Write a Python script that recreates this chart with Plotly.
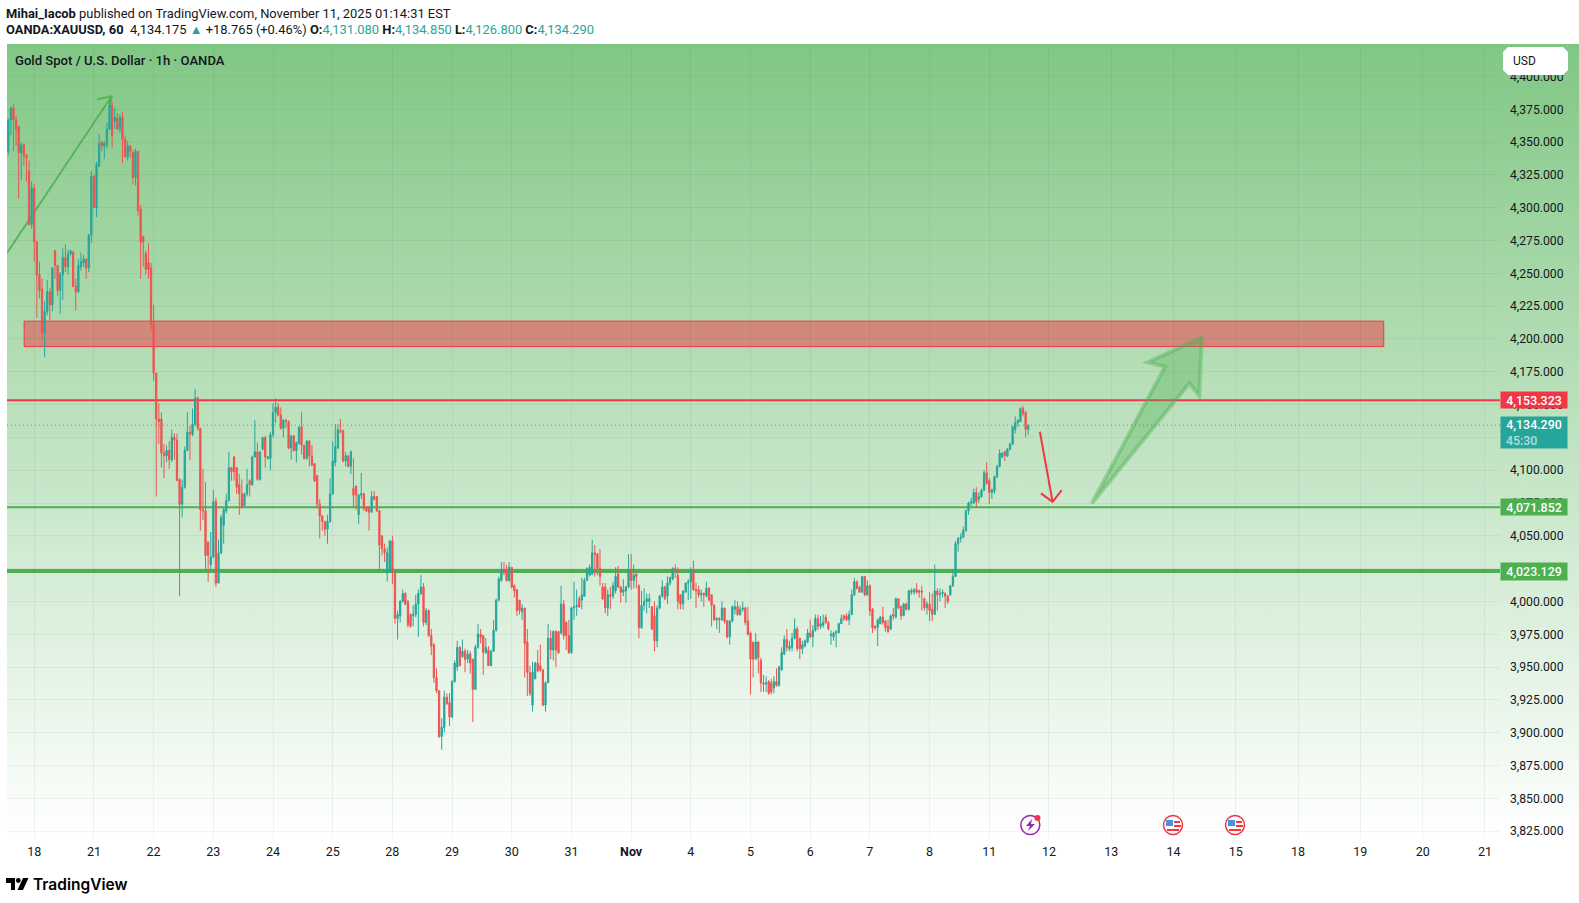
"""Gold spot 1h chart, TradingView snapshot look"""

import base64
import plotly.graph_objects as go

opens = [
    4343,4367,4376,4367,4362,4342,4348,4340,4328,4287,
    4315,4274,4249,4238,4205,4221,4236,4226,4267,4256,
    4237,4249,4262,4255,4265,4266,4240,4236,4255,4258,
    4261,4254,4279,4324,4300,4332,4350,4347,4348,4360,
    4378,4366,4368,4360,4369,4352,4339,4347,4342,4323,
    4343,4299,4278,4265,4258,4254,4211,4174,4139,4139,
    4113,4111,4115,4108,4125,4123,4093,4074,4087,4115,
    4129,4127,4135,4155,4132,4070,4069,4045,4028,4034,
    4076,4014,4037,4058,4069,4077,4102,4110,4102,4089,
    4082,4073,4082,4092,4089,4110,4114,4093,4116,4125,
    4109,4109,4127,4144,4148,4142,4132,4138,4137,4117,
    4126,4115,4120,4133,4119,4109,4122,4111,4105,4096,
    4074,4065,4061,4055,4061,4082,4106,4117,4130,4130,
    4107,4111,4103,4086,4088,4066,4081,4082,4072,4072,
    4068,4080,4080,4069,4050,4040,4022,4022,4046,4022,
    3987,3989,4000,4006,4000,3990,3989,3990,3998,4006,
    4011,3984,3993,3974,3967,3942,3932,3897,3904,3927,
    3923,3912,3939,3950,3965,3958,3962,3956,3960,3956,
    3933,3965,3975,3974,3961,3963,3951,3962,3978,4001,
    4016,4024,4024,4016,4026,4012,4009,4001,3992,3995,
    3969,3946,3921,3941,3953,3951,3948,3921,3938,3972,
    3963,3977,3977,3976,3998,3984,3974,3961,3995,3996,
    4002,4001,4004,4016,4020,4021,4037,4036,4025,4011,
    4011,3995,4005,4004,4008,4021,4011,4007,4008,4011,
    4024,4016,4021,4012,3980,3997,4000,4000,3996,3989,
    3970,3995,4004,4011,4004,4014,4017,4025,4020,4005,
    3998,4007,4014,4015,4023,4009,4009,4005,4006,4004,
    4010,4005,3997,3986,3987,3986,3995,3985,3973,3985,
    3994,3996,3990,3994,3995,3985,3976,3969,3956,3969,
    3955,3938,3937,3939,3938,3934,3939,3936,3948,3960,
    3971,3964,3965,3972,3979,3972,3964,3966,3969,3976,
    3973,3978,3987,3981,3982,3988,3984,3974,3973,3976,
    3976,3983,3989,3989,3986,3990,4005,4015,4011,4007,
    4019,4005,4012,3994,3981,3980,3983,3988,3985,3981,
    3979,3990,3988,4002,3996,3989,3998,3994,4007,4007,
    4009,4008,4008,4002,3995,3998,3994,3990,4008,4005,
    4006,4006,4004,4005,4012,4019,4044,4048,4049,4054,
    4069,4075,4075,4083,4078,4080,4085,4098,4092,4083,
    4084,4095,4103,4110,4114,4111,4116,4120,4131,4136,
    4137,4147,4144,4131.08,
]
highs = [
    4368,4377,4379,4370,4362,4350,4349,4341,4336,4320,
    4318,4275,4259,4246,4229,4245,4239,4255,4268,4256,
    4251,4269,4272,4268,4268,4267,4246,4261,4266,4264,
    4261,4280,4328,4325,4335,4356,4351,4351,4365,4382,
    4381,4376,4372,4371,4373,4355,4351,4348,4344,4345,
    4343,4302,4279,4267,4273,4258,4226,4174,4151,4144,
    4120,4119,4122,4131,4128,4128,4094,4093,4118,4144,
    4134,4147,4162,4156,4132,4101,4091,4046,4053,4085,
    4079,4047,4066,4071,4082,4114,4102,4111,4102,4097,
    4093,4083,4101,4093,4111,4138,4121,4114,4125,4126,
    4111,4129,4151,4155,4151,4148,4139,4139,4138,4127,
    4127,4122,4133,4144,4119,4123,4123,4119,4105,4096,
    4078,4066,4061,4066,4094,4122,4135,4135,4139,4131,
    4114,4111,4115,4109,4088,4082,4098,4083,4072,4072,
    4084,4084,4080,4070,4050,4044,4041,4047,4050,4022,
    3993,4001,4009,4007,4001,3991,3997,4005,4009,4020,
    4014,3995,3994,3979,3968,3949,3932,3911,3932,3930,
    3930,3940,3955,3970,3966,3971,3964,3963,3962,3956,
    3967,3983,3979,3974,3972,3966,3963,3986,4002,4019,
    4030,4030,4028,4030,4026,4013,4009,4001,3998,3995,
    3979,3951,3954,3954,3963,3967,3948,3939,3983,3978,
    3978,3978,3977,4012,4001,3985,3986,3996,4015,4009,
    4004,4018,4018,4026,4028,4047,4043,4037,4040,4014,
    4014,4009,4011,4015,4026,4027,4012,4017,4012,4036,
    4036,4028,4021,4013,4008,4010,4006,4006,3996,4000,
    3997,4005,4016,4012,4019,4019,4026,4028,4026,4005,
    4008,4014,4017,4026,4031,4014,4012,4009,4007,4015,
    4011,4005,3998,3988,3988,4000,3995,3986,3986,3997,
    4001,4000,3997,4000,3996,3996,3977,3969,3976,3970,
    3957,3944,3943,3940,3941,3943,3949,3951,3965,3974,
    3979,3970,3976,3987,3981,3972,3970,3971,3979,3986,
    3982,3990,3990,3989,3990,3990,3985,3978,3977,3978,
    3984,3990,3990,3991,3993,4009,4018,4016,4012,4019,
    4019,4016,4013,3995,3982,3987,3989,3996,3986,3986,
    3990,3995,4003,4002,3997,3999,3999,4009,4010,4010,
    4014,4009,4012,4003,4000,4007,4006,4028,4010,4010,
    4009,4007,4005,4012,4024,4046,4049,4052,4057,4070,
    4076,4079,4086,4087,4083,4086,4100,4106,4094,4086,
    4096,4104,4116,4114,4115,4117,4121,4134,4141,4139,
    4148,4149,4145,4134.85,
]
lows = [
    4340,4355,4343,4347,4307,4321,4332,4320,4287,4284,
    4259,4216,4231,4200,4186,4218,4214,4221,4246,4233,
    4219,4230,4251,4249,4263,4240,4222,4235,4252,4255,
    4246,4251,4273,4300,4293,4331,4343,4337,4345,4359,
    4346,4360,4359,4357,4334,4338,4336,4338,4318,4317,
    4294,4246,4255,4249,4246,4206,4168,4080,4120,4102,
    4094,4106,4101,4106,4108,4092,4004,4064,4086,4115,
    4108,4126,4134,4130,4054,4062,4024,4015,4024,4033,
    4011,4014,4036,4044,4067,4076,4092,4092,4082,4066,
    4071,4072,4080,4080,4088,4110,4092,4092,4115,4102,
    4108,4100,4125,4136,4141,4131,4125,4132,4116,4108,
    4114,4106,4120,4112,4108,4108,4103,4103,4091,4071,
    4048,4054,4050,4044,4060,4081,4103,4116,4128,4106,
    4103,4102,4097,4072,4070,4059,4078,4069,4068,4054,
    4068,4077,4068,4024,4035,4030,4015,4022,4013,3983,
    3971,3984,3999,3997,3980,3980,3981,3988,3973,4005,
    3981,3982,3973,3959,3938,3930,3896,3887,3900,3921,
    3905,3911,3938,3947,3951,3957,3946,3953,3945,3908,
    3933,3964,3968,3944,3960,3951,3951,3962,3977,4000,
    4015,4020,4015,4015,4010,4003,3989,3990,3986,3942,
    3928,3928,3916,3941,3946,3946,3920,3916,3938,3956,
    3955,3950,3960,3975,3971,3963,3960,3960,3986,3989,
    3995,3994,4004,4016,4019,4020,4019,4020,4012,4001,
    3991,3989,3994,4002,4006,4010,3999,4004,3999,4010,
    4009,4010,4010,3972,3979,3993,3991,3995,3978,3962,
    3965,3994,4003,4001,3998,4012,4016,4018,3994,3994,
    3994,4007,4001,4002,4008,3995,4003,4000,3996,4003,
    4000,3981,3985,3979,3976,3985,3983,3972,3967,3984,
    3990,3989,3989,3992,3982,3974,3929,3942,3956,3945,
    3931,3931,3931,3929,3929,3930,3935,3935,3947,3959,
    3962,3962,3962,3971,3962,3956,3960,3965,3968,3972,
    3965,3977,3978,3979,3980,3983,3978,3967,3970,3965,
    3976,3983,3985,3985,3982,3990,4004,4009,4007,4007,
    4004,4004,3989,3976,3978,3966,3983,3982,3977,3976,
    3978,3986,3987,3994,3986,3989,3993,3993,4005,4005,
    4006,4003,3993,3993,3990,3985,3985,3990,3993,4000,
    4003,3995,3998,4004,4011,4019,4038,4045,4048,4053,
    4066,4072,4074,4072,4075,4079,4084,4089,4074,4078,
    4082,4094,4102,4109,4107,4110,4115,4119,4128,4133,
    4137,4141,4125,4126.8,
]
closes = [
    4367,4376,4367,4360,4342,4348,4340,4338,4287,4315,
    4274,4249,4237,4205,4221,4236,4226,4254,4256,4237,
    4249,4262,4255,4265,4267,4240,4236,4256,4259,4261,
    4254,4279,4324,4300,4333,4349,4347,4349,4360,4378,
    4355,4369,4360,4369,4352,4339,4347,4343,4323,4343,
    4298,4274,4274,4253,4253,4211,4174,4139,4137,4113,
    4111,4115,4108,4125,4123,4092,4074,4087,4115,4129,
    4128,4135,4155,4132,4070,4069,4035,4035,4034,4076,
    4014,4037,4064,4070,4077,4102,4099,4099,4087,4082,
    4072,4082,4089,4089,4110,4114,4093,4114,4125,4110,
    4110,4127,4144,4148,4142,4132,4138,4137,4117,4126,
    4115,4121,4133,4119,4109,4122,4111,4104,4092,4074,
    4065,4061,4055,4061,4082,4107,4118,4131,4129,4107,
    4111,4103,4114,4081,4081,4081,4082,4071,4069,4068,
    4080,4078,4069,4043,4040,4037,4037,4046,4022,3987,
    3990,4000,4006,3998,3982,3981,3990,3998,4006,4011,
    3984,3993,3974,3966,3942,3932,3897,3904,3927,3922,
    3912,3939,3953,3965,3951,3962,3956,3960,3953,3933,
    3965,3975,3973,3961,3965,3951,3962,3978,4001,4017,
    4024,4022,4016,4026,4011,4008,3993,3993,3995,3968,
    3946,3930,3946,3953,3947,3948,3921,3938,3972,3963,
    3977,3963,3961,3998,3974,3974,3961,3995,3996,3997,
    3996,4005,4016,4025,4026,4037,4036,4025,4019,4002,
    3995,4005,4004,4012,4019,4011,4007,4009,4011,4024,
    4016,4020,4019,3980,3997,4000,4002,4002,3979,3970,
    3995,4004,4011,4002,4014,4018,4025,4023,4000,3998,
    4008,4014,4015,4024,4009,4008,4005,4006,4005,4010,
    4001,3997,3986,3987,3986,3995,3985,3973,3985,3996,
    3996,3990,3994,3995,3984,3975,3956,3956,3969,3957,
    3938,3937,3938,3930,3931,3939,3936,3950,3961,3971,
    3965,3966,3972,3979,3964,3964,3967,3970,3976,3973,
    3978,3987,3981,3983,3984,3984,3979,3975,3976,3977,
    3983,3987,3987,3986,3990,4005,4015,4010,4007,4019,
    4005,4012,3993,3980,3980,3986,3988,3984,3980,3977,
    3989,3989,4002,3995,3989,3998,3994,4008,4008,4009,
    4007,4007,4007,3995,3998,3993,3990,4008,4005,4006,
    4007,4004,4000,4012,4019,4044,4048,4049,4054,4069,
    4075,4076,4083,4076,4080,4085,4098,4090,4083,4085,
    4095,4103,4113,4113,4111,4116,4120,4133,4136,4138,
    4147,4143,4131,4134.29,
]

# bar index of each day label on the time axis
day_ticks = [10, 33, 56, 79, 102, 125, 148, 171, 194, 217, 240, 263, 286,
             309, 332, 355, 378, 401, 425, 449, 473, 497, 521, 545, 569]
day_labels = ["18", "21", "22", "23", "24", "25", "28", "29", "30", "31", "<b>Nov</b>", "4", "5",
              "6", "7", "8", "11", "12", "13", "14", "15", "18", "19", "20", "21"]
price_ticks = [3825 + 25 * k for k in range(24)]

level_red = 4153.323
level_green_1 = 4071.852
level_green_2 = 4023.129
last_price = 4134.29

# drawings: bar index / price
zone_x = [6.1, 530]
zone_y = [4194.2, 4213.6]
trend_x = [-0.5, 39.8]
trend_y = [4265.5, 4385]
trend_head_x = [34.2, 39.8, 39.2]
trend_head_y = [4382.6, 4385, 4377]
down_x = [397.5, 402.4]
down_y = [4129.3, 4075.9]
down_head_x = [397.9, 402.4, 405.9]
down_head_y = [4082.3, 4075.9, 4084.8]
big_arrow_x = [417.5, 445.7, 439.1, 459.9, 458.9, 455.1]
big_arrow_y = [4074.7, 4178.8, 4182.2, 4201.2, 4156.5, 4166.2]

TEAL = "#26a69a"
RED = "#ef5350"
LINE_RED = "#f23645"
GREEN = "#4caf50"
INK = "#131722"
FONT = "Roboto"

# plot area in page pixels
L, R, T, B = 7, 1500, 44, 838


def px(x):
    return (x - L) / (R - L)


def py(y):
    return (B - y) / (B - T)


def path_of(xs, ys, close=False):
    d = "M" + " L".join(f"{a},{b}" for a, b in zip(xs, ys))
    return d + (" Z" if close else "")


def page_path(points, close=True):
    return path_of([px(p[0]) for p in points], [py(p[1]) for p in points], close)


fig = go.Figure()

fig.add_trace(go.Candlestick(
    x=list(range(len(closes))),
    open=opens, high=highs, low=lows, close=closes,
    increasing=dict(line=dict(color=TEAL, width=1), fillcolor=TEAL),
    decreasing=dict(line=dict(color=RED, width=1), fillcolor=RED),
    whiskerwidth=0,
    showlegend=False,
))

shapes = []

# drawings sit under the candles
shapes.append(dict(type="rect", x0=zone_x[0], x1=zone_x[1], y0=zone_y[0], y1=zone_y[1],
                   fillcolor="rgba(242,54,69,0.5)", line=dict(color=LINE_RED, width=1), layer="below"))
for level, color, w in [(level_red, LINE_RED, 2), (level_green_1, GREEN, 2), (level_green_2, GREEN, 4)]:
    shapes.append(dict(type="line", xref="paper", x0=0, x1=1, y0=level, y1=level,
                       line=dict(color=color, width=w), layer="below"))
shapes.append(dict(type="line", xref="paper", x0=0, x1=1, y0=last_price, y1=last_price,
                   line=dict(color=TEAL, width=1, dash="1px 3px"), layer="below"))
shapes.append(dict(type="path", path=path_of(trend_x, trend_y),
                   line=dict(color="rgba(76,175,80,0.85)", width=2), layer="below"))
shapes.append(dict(type="path", path=path_of(trend_head_x, trend_head_y),
                   line=dict(color="rgba(76,175,80,0.85)", width=2), layer="below"))
shapes.append(dict(type="path", path=path_of(down_x, down_y), line=dict(color=LINE_RED, width=2), layer="below"))
shapes.append(dict(type="path", path=path_of(down_head_x, down_head_y), line=dict(color=LINE_RED, width=2), layer="below"))
shapes.append(dict(type="path", path=path_of(big_arrow_x, big_arrow_y, True),
                   fillcolor="rgba(76,175,80,0.35)", line=dict(color="rgba(76,175,80,0.4)", width=4), layer="below"))


# USD box
shapes.append(dict(type="path", xref="paper", yref="paper", fillcolor="white", line=dict(width=0),
                   path=page_path([(1508, 47), (1563, 47), (1568, 52), (1568, 70), (1563, 75),
                                   (1508, 75), (1503, 70), (1503, 52)])))


# event icons along the bottom
def circle(cx, cy, r, **kw):
    return dict(type="circle", xref="paper", yref="paper", x0=px(cx - r), x1=px(cx + r),
                y0=py(cy + r), y1=py(cy - r), **kw)


def box(x0, y0, x1, y1, color):
    return dict(type="rect", xref="paper", yref="paper", x0=px(x0), x1=px(x1), y0=py(y1), y1=py(y0),
                fillcolor=color, line=dict(width=0))


shapes.append(circle(1030.3, 825, 9.5, fillcolor="rgba(255,255,255,0)", line=dict(color="#9c27b0", width=1.5)))
shapes.append(dict(type="path", xref="paper", yref="paper", fillcolor="#9c27b0", line=dict(width=0),
                   path=page_path([(1032, 819), (1026, 826), (1030, 826), (1028, 831), (1035, 824), (1031, 824)])))
shapes.append(circle(1037.5, 818, 3, fillcolor=LINE_RED, line=dict(width=0)))
for cx in [1173, 1235]:
    shapes.append(circle(cx, 825, 9.5, fillcolor="white", line=dict(color=LINE_RED, width=1.5)))
    shapes.append(box(cx - 7, 820, cx, 826, "#4a90e2"))
    shapes.append(box(cx + 1, 821, cx + 7, 823, LINE_RED))
    shapes.append(box(cx + 1, 825, cx + 8, 827, LINE_RED))
    shapes.append(box(cx - 6, 829, cx + 6, 831, LINE_RED))

# TradingView logo mark
shapes.append(box(6, 878, 15, 883, "black"))
shapes.append(box(11, 883, 15, 890, "black"))
shapes.append(circle(18.3, 880.5, 2.4, fillcolor="black", line=dict(width=0)))
shapes.append(dict(type="path", xref="paper", yref="paper", fillcolor="black", line=dict(width=0),
                   path=page_path([(23, 878), (28.5, 878), (23, 890), (17.5, 890)])))

annotations = []


def page_text(x, y, text, size=12.9, color=INK, anchor="left", weight=None, family=FONT):
    annotations.append(dict(
        xref="paper", yref="paper", x=px(x), y=py(y), text=text, showarrow=False,
        xanchor=anchor, yanchor="middle", align="left",
        font=dict(family=family, size=size, color=color, weight=weight),
    ))


page_text(4, 13, "<b>Mihai_Iacob</b> published on TradingView.com, November 11, 2025 01:14:31 EST")
page_text(4, 29.5,
          "<b>OANDA:XAUUSD, 60</b>  4,134.175 "
          f"<span style='color:{TEAL}'>▲</span> +18.765 (+0.46%) "
          f"<b>O:</b><span style='color:{TEAL}'>4,131.080</span> "
          f"<b>H:</b><span style='color:{TEAL}'>4,134.850</span> "
          f"<b>L:</b><span style='color:{TEAL}'>4,126.800</span> "
          f"<b>C:</b><span style='color:{TEAL}'>4,134.290</span>")
page_text(13, 60.5, "Gold Spot / U.S. Dollar · 1h · OANDA", size=13.1, weight=500)
page_text(1511, 61, "USD", size=12)
page_text(31, 884, "TradingView", size=15.5, color="black", weight=600, family="Inter")


def price_tag(y0, y1, text, color):
    annotations.append(dict(
        xref="paper", yref="paper", x=px(1534), y=py((y0 + y1) / 2), text=text, showarrow=False,
        xanchor="center", yanchor="middle", width=66, height=y1 - y0, bgcolor=color, borderpad=0,
        font=dict(family=FONT, size=12.4, color="white", weight=500),
    ))


price_tag(392, 408, "4,153.323", LINE_RED)
price_tag(417, 448, "4,134.290<br><span style='color:rgba(255,255,255,0.65)'>45:30" + "\u00a0" * 8 + "</span>", TEAL)
price_tag(499, 515, "4,071.852", GREEN)
price_tag(563, 580, "4,023.129", GREEN)

# green fade behind the whole pane, price scale included
gradient = ("<svg xmlns='http://www.w3.org/2000/svg' width='10' height='100' preserveAspectRatio='none'>"
            "<defs><linearGradient id='g' x1='0' y1='0' x2='0' y2='1'>"
            "<stop offset='0' stop-color='#81c784'/><stop offset='1' stop-color='#ffffff'/>"
            "</linearGradient></defs><rect width='10' height='100' fill='url(#g)'/></svg>")
gradient_uri = "data:image/svg+xml;base64," + base64.b64encode(gradient.encode()).decode()

fig.update_layout(
    width=1579,
    height=903,
    margin=dict(l=L, r=1579 - R, t=T, b=903 - B, autoexpand=False),
    paper_bgcolor="white",
    plot_bgcolor="rgba(0,0,0,0)",
    font=dict(family=FONT, size=12.5, color=INK),
    boxgap=0.3,
    shapes=shapes,
    annotations=annotations,
    images=[dict(source=gradient_uri, xref="paper", yref="paper", x=0, y=1,
                 sizex=(1579 - L) / (R - L), sizey=1, xanchor="left", yanchor="top",
                 sizing="stretch", layer="below")],
)
fig.update_xaxes(
    range=[-0.5, 574.8],
    tickmode="array", tickvals=day_ticks, ticktext=day_labels,
    showgrid=True, gridcolor="rgba(42,46,57,0.06)", gridwidth=1,
    zeroline=False, showline=False, ticks="", ticklabelstandoff=4,
    rangeslider=dict(visible=False),
    tickfont=dict(size=12.5, color=INK),
)
fig.update_yaxes(
    side="right",
    range=[3819.7, 4424.8],
    tickmode="array", tickvals=price_ticks, tickformat=",.3f",
    showgrid=True, gridcolor="rgba(42,46,57,0.06)", gridwidth=1,
    zeroline=False, showline=False, ticks="", ticklabelstandoff=9,
    tickfont=dict(size=12.2, color=INK),
)

fig.write_html("out.html", config=dict(displayModeBar=False), post_script="document.body.style.margin='0';")
